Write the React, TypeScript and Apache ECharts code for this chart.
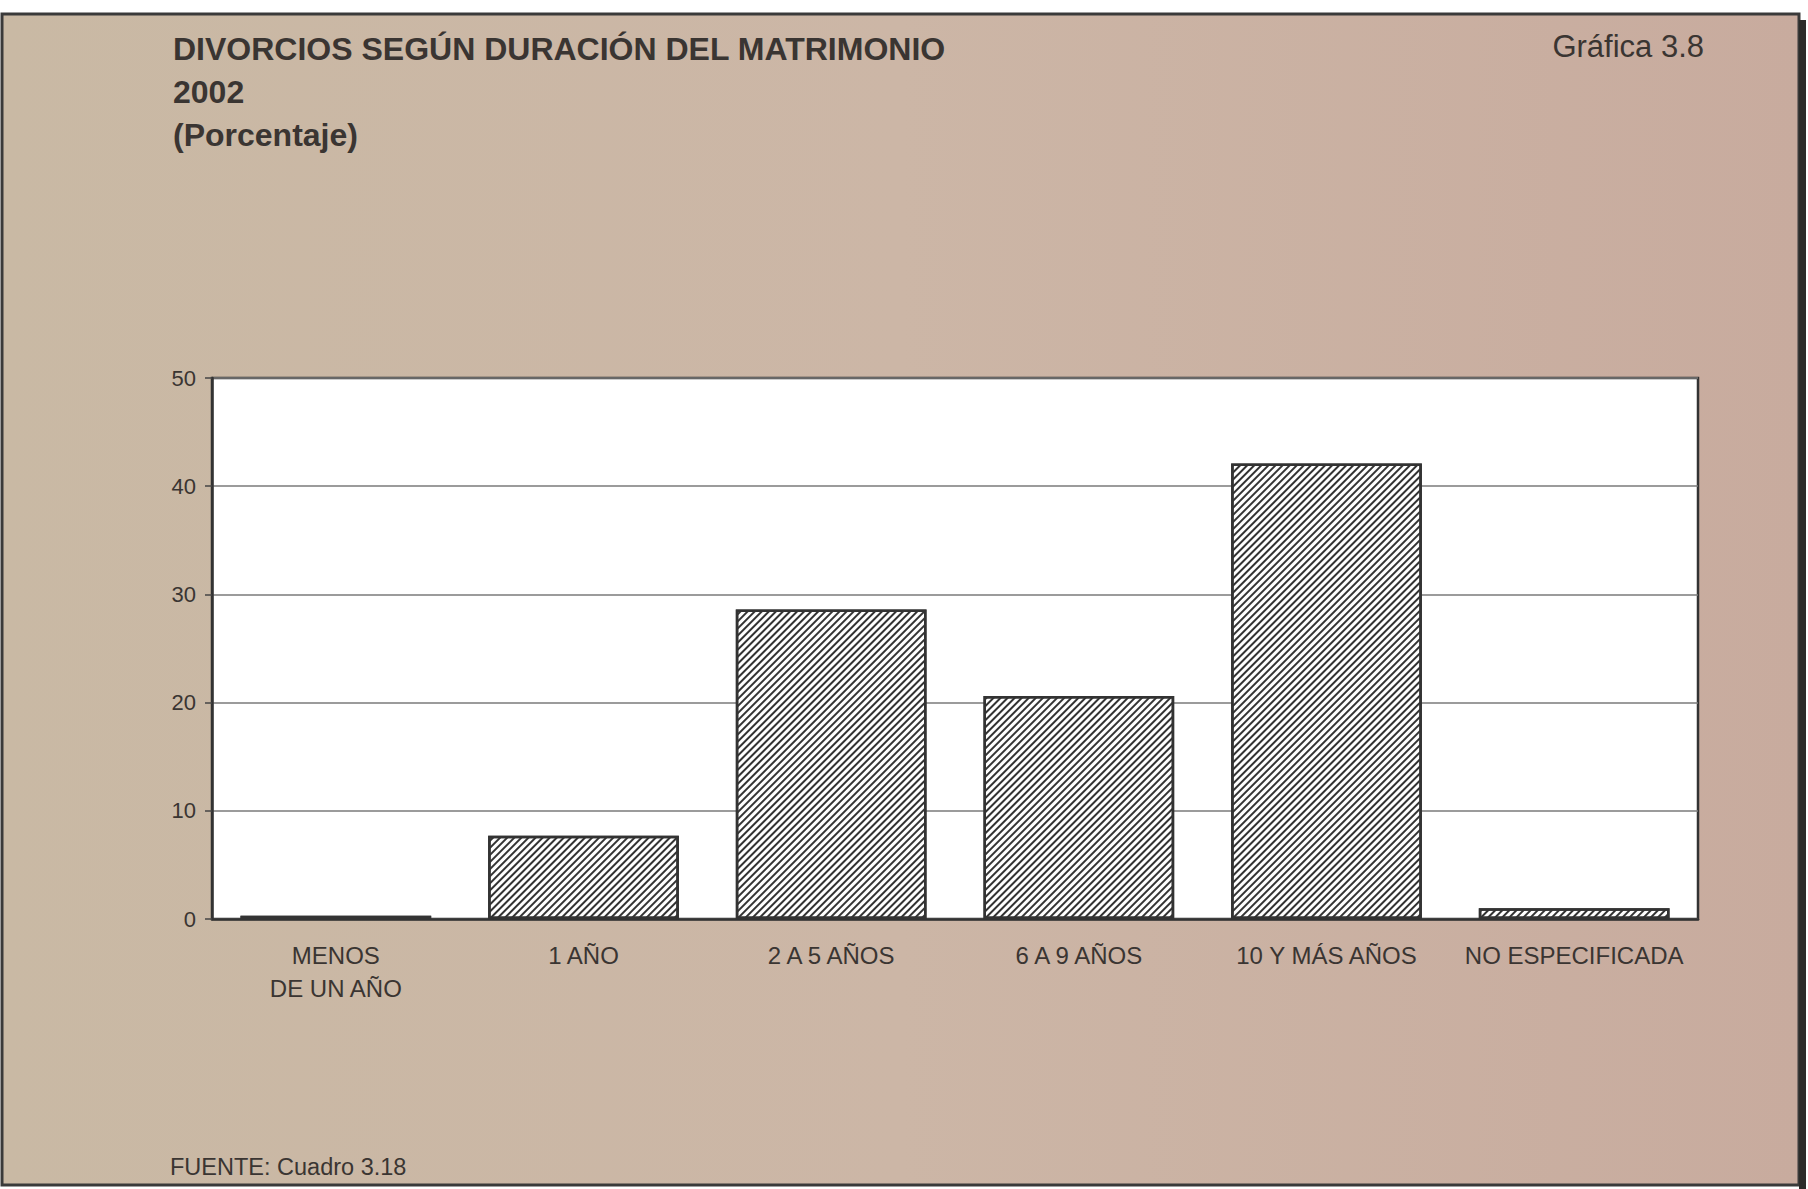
import React, { useEffect, useRef } from "react";
import * as echarts from "echarts";

const categories = ["MENOS\nDE UN AÑO", "1 AÑO", "2 A 5 AÑOS", "6 A 9 AÑOS", "10 Y MÁS AÑOS", "NO ESPECIFICADA"];
const values = [0.3, 7.7, 28.6, 20.6, 42.1, 1.0];
const yTicks = { min: 0, max: 50, interval: 10 };
const titleLines = ["DIVORCIOS SEGÚN DURACIÓN DEL MATRIMONIO", "2002", "(Porcentaje)"];
const chartNumber = "Gráfica 3.8";
const sourceText = "FUENTE: Cuadro 3.18";

const W = 1808;
const H = 1189;
const FONT = "'Liberation Sans', Arial, Helvetica, sans-serif";
const TXT = "#3a3532";

export default function App() {
  const ref = useRef<HTMLDivElement>(null);
  useEffect(() => {
    if (!ref.current) return;
    const chart = echarts.init(ref.current, null, { renderer: "svg", width: W, height: H });
    chart.setOption({
      animation: false,
      backgroundColor: "#ffffff",
      textStyle: { fontFamily: FONT },
      title: {
        text: titleLines.join("\n"),
        left: 173,
        top: 27,
        padding: 0,
        textStyle: { fontFamily: FONT, fontSize: 32, fontWeight: "bold", color: TXT, lineHeight: 43 },
      },
      graphic: [
        {
          type: "rect",
          z: -10,
          silent: true,
          shape: { x: 2, y: 14, width: 1797, height: 1171 },
          style: {
            fill: new echarts.graphic.LinearGradient(0, 0, 1, 0, [
              { offset: 0, color: "#c9b9a4" },
              { offset: 0.5, color: "#ccb6a6" },
              { offset: 1, color: "#c8ab9e" },
            ]),
            stroke: "#3a3a3a",
            lineWidth: 3,
          },
        },
        {
          type: "rect",
          z: -9,
          silent: true,
          shape: { x: 1799, y: 20, width: 7, height: 1169 },
          style: { fill: "#2c2c2a" },
        },
        {
          type: "text",
          z: 10,
          right: W - 1704,
          top: 31,
          style: { text: chartNumber, fontFamily: FONT, fontSize: 31, fill: TXT },
        },
        {
          type: "text",
          z: 10,
          left: 170,
          top: 1155,
          style: { text: sourceText, fontFamily: FONT, fontSize: 23.5, fill: TXT },
        },
      ],
      grid: {
        left: 212,
        right: W - 1698,
        top: 378,
        bottom: H - 919,
        show: true,
        backgroundColor: "#ffffff",
        borderColor: "#333333",
        borderWidth: 2.5,
        containLabel: false,
      },
      xAxis: {
        type: "category",
        data: categories,
        axisLine: { show: true, lineStyle: { color: "#333333", width: 2.5 } },
        axisTick: { show: false },
        axisLabel: { fontFamily: FONT, fontSize: 24, color: TXT, margin: 20, lineHeight: 33, interval: 0 },
      },
      yAxis: {
        type: "value",
        min: yTicks.min,
        max: yTicks.max,
        interval: yTicks.interval,
        axisLine: { show: true, lineStyle: { color: "#333333", width: 2.5 } },
        axisTick: { show: true, length: 7, lineStyle: { color: "#444444", width: 1.5 } },
        axisLabel: { fontFamily: FONT, fontSize: 22, color: TXT, margin: 16 },
        splitLine: { show: true, lineStyle: { color: "#7a7a7a", width: 1.5 } },
      },
      series: [
        {
          type: "bar",
          data: values,
          barCategoryGap: "23%",
          itemStyle: {
            color: "#ffffff",
            borderColor: "#333333",
            borderWidth: 2.5,
            decal: {
              symbol: "rect",
              symbolSize: 1,
              color: "#333333",
              backgroundColor: "#ffffff",
              dashArrayX: [1, 0],
              dashArrayY: [2, 2.4],
              rotation: -Math.PI / 4,
            },
          },
        },
      ],
    });
    return () => chart.dispose();
  }, []);
  return (
    <div style={{ position: "fixed", left: 0, top: 0, width: W, height: H, background: "#fff" }}>
      <div ref={ref} style={{ width: W, height: H }} />
    </div>
  );
}
